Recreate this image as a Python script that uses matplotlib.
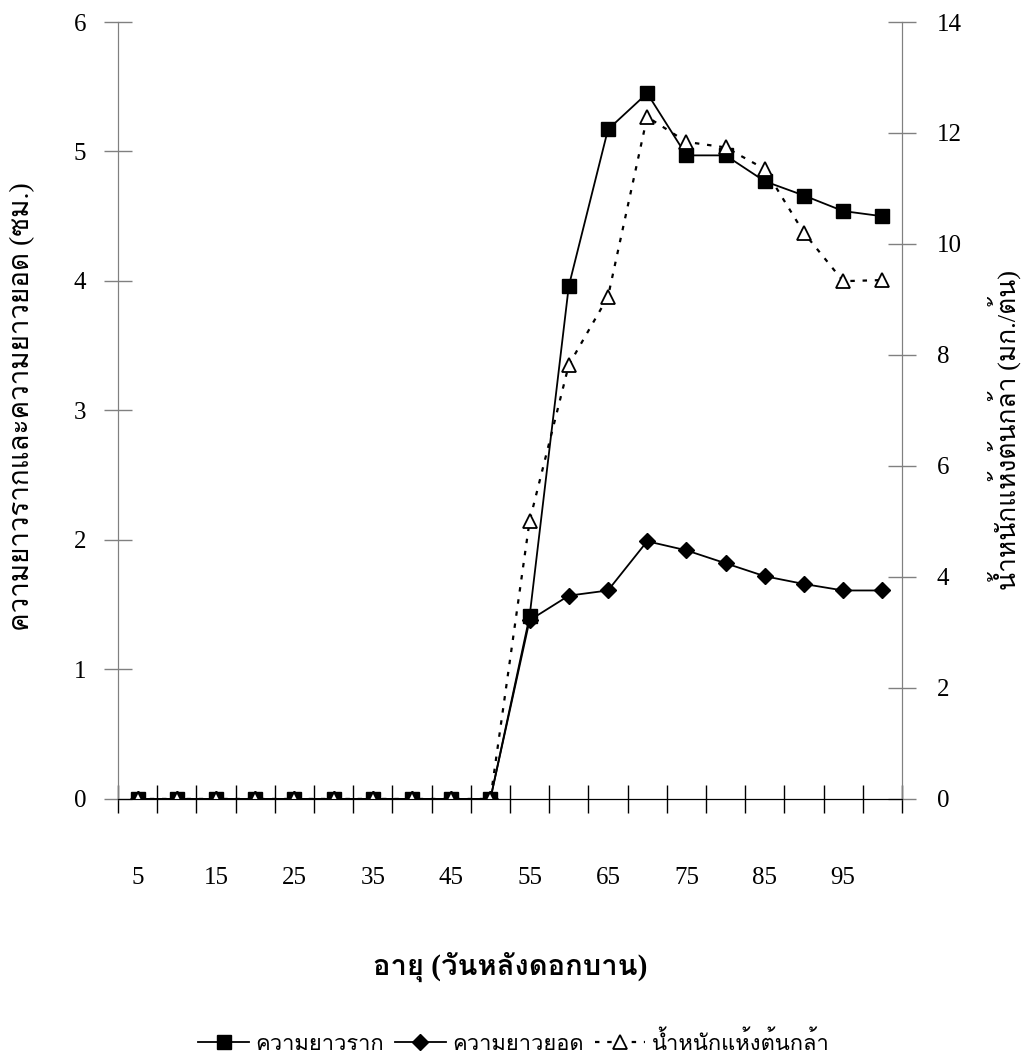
import matplotlib
matplotlib.use("Agg")
import matplotlib.pyplot as plt
from matplotlib import font_manager
from matplotlib.ft2font import FT2Font

# หาฟอนต์ที่มีอักษรไทย (ถ้ามีตัวหนาด้วยจะดีกว่า)
prefer = ['Norasi', 'Kinnari', 'Laksaman', 'TH Sarabun New', 'Noto Serif Thai',
          'Garuda', 'Loma', 'Noto Sans Thai', 'Waree', 'Umpush', 'Tlwg Typo']
weights = {}
for f in font_manager.fontManager.ttflist:
    try:
        if 0x0E01 in FT2Font(f.fname).get_charmap():
            w = f.weight if isinstance(f.weight, int) else 400
            weights.setdefault(f.name, set()).add(w)
    except Exception:
        pass
thai = None
for p in prefer:
    if p in weights and max(weights[p]) >= 600:
        thai = p
        break
if thai is None:
    for p in prefer:
        if p in weights:
            thai = p
            break
if thai is None and weights:
    thai = sorted(weights)[0]
num_font = 'Liberation Serif'
text_fam = [num_font, thai] if thai else [num_font, 'DejaVu Sans']

days = [5, 10, 15, 20, 25, 30, 35, 40, 45, 50,
        55, 60, 65, 70, 75, 80, 85, 90, 95, 100]
root = [0, 0, 0, 0, 0, 0, 0, 0, 0, 0,
        1.41, 3.96, 5.17, 5.45, 4.97, 4.97, 4.77, 4.66, 4.54, 4.50]
shoot = [0, 0, 0, 0, 0, 0, 0, 0, 0, 0,
         1.38, 1.57, 1.61, 1.99, 1.92, 1.82, 1.72, 1.66, 1.61, 1.61]
dry = [0, 0, 0, 0, 0, 0, 0, 0, 0, 0,
       5.01, 7.82, 9.05, 12.29, 11.84, 11.74, 11.35, 10.20, 9.33, 9.35]
xlabels = [5, 15, 25, 35, 45, 55, 65, 75, 85, 95]

fig = plt.figure(figsize=(10.28, 10.63), dpi=100)
ax = fig.add_axes([0.1148, 0.2484, 0.7626, 0.7309])
ax2 = ax.twinx()

l1, = ax.plot(days, root, color='black', lw=1.3, marker='s', ms=9.5, zorder=3)
l2, = ax.plot(days, shoot, color='black', lw=1.3, marker='D', ms=8, zorder=3)
l3, = ax2.plot(days, dry, color='black', lw=1.6, ls=(0, (2, 3.5)), marker='^',
               ms=9.5, mfc='white', mec='black', mew=1.3, zorder=4)

ax.set_xlim(2.5, 102.5)
ax.set_ylim(0, 6)
ax2.set_ylim(0, 14)
ax.set_yticks(range(0, 7))
ax2.set_yticks(range(0, 15, 2))

ax.set_xticks(xlabels)
ax.set_xticklabels([str(v) for v in xlabels])
ax.set_xticks([2.5 + 5 * k for k in range(21)], minor=True)
ax.tick_params(axis='x', which='major', length=0, pad=49, labelsize=18)
ax.tick_params(axis='x', which='minor', direction='inout', length=20, width=1,
               color='black')
ax.tick_params(axis='y', direction='inout', length=20, width=1, color='#808080',
               pad=13, labelsize=18)
ax2.tick_params(axis='y', direction='inout', length=20, width=1, color='#808080',
                pad=15, labelsize=18)
for lab in ax.get_xticklabels() + ax.get_yticklabels() + ax2.get_yticklabels():
    lab.set_fontfamily(num_font)

for a in (ax, ax2):
    a.spines['top'].set_visible(False)
    a.spines['left'].set_color('#808080')
    a.spines['right'].set_color('#808080')
    a.spines['bottom'].set_color('black')
    a.spines['bottom'].set_zorder(5)

ax.set_ylabel('ความยาวรากและความยาวยอด (ซม.)', fontsize=20, family=text_fam,
              rotation=90, ha='center', va='center')
ax.yaxis.set_label_coords(-0.122, 0.505)
ax2.set_ylabel('น้ำหนักแห้งต้นกล้า (มก./ต้น)', fontsize=19, family=text_fam,
               rotation=90, ha='center', va='center')
ax2.yaxis.set_label_coords(1.131, 0.475)
ax.set_xlabel('อายุ (วันหลังดอกบาน)', fontsize=21, fontweight='bold', family=text_fam)
ax.xaxis.set_label_coords(0.5, -0.197)

fig.legend([l1, l2, l3], ['ความยาวราก', 'ความยาวยอด', 'น้ำหนักแห้งต้นกล้า'],
           loc='center', bbox_to_anchor=(0.5, 0.019), ncol=3, frameon=False,
           handlelength=2.3, handletextpad=0.3, columnspacing=0.5,
           prop={'family': text_fam, 'size': 15.8})

fig.savefig('out.png', dpi=100)
